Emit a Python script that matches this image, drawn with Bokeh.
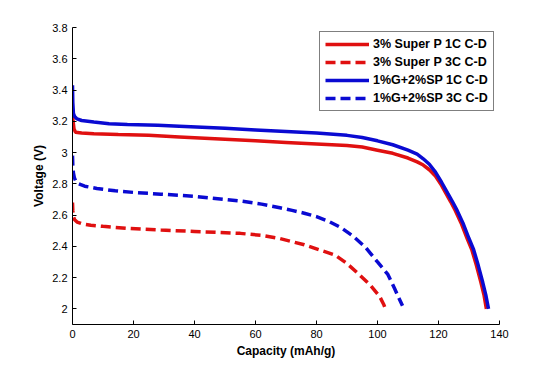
from bokeh.plotting import figure
from bokeh.models import Range1d, FixedTicker, Legend, LegendItem
from bokeh.embed import file_html
from bokeh.resources import INLINE

# ---- data ----
sp1c_cap = [0, 0.2, 0.5, 1, 3, 7, 15, 25, 35, 50, 60, 70, 80, 90, 95, 100, 105, 110,
            113, 115, 117, 119, 121, 122.4, 124, 125.5, 127.4, 129.4, 130.9, 132.4,
            133.9, 134.9, 135.7]
sp1c_v = [3.25, 3.2, 3.15, 3.13, 3.125, 3.12, 3.115, 3.11, 3.10, 3.085, 3.075, 3.065,
          3.055, 3.045, 3.035, 3.015, 2.995, 2.965, 2.94, 2.92, 2.89, 2.85, 2.79, 2.74,
          2.685, 2.63, 2.55, 2.45, 2.38, 2.28, 2.17, 2.09, 2.0]

sp3c_cap = [0, 0.1, 0.3, 0.7, 1.5, 3, 6, 10, 18, 29, 40, 55, 62, 68, 72, 76, 81, 86,
            90, 94, 97.7, 100.7, 102, 102.6]
sp3c_v = [2.68, 2.63, 2.59, 2.57, 2.555, 2.545, 2.535, 2.528, 2.515, 2.504, 2.495, 2.483,
          2.47, 2.45, 2.43, 2.41, 2.377, 2.345, 2.29, 2.22, 2.15, 2.08, 2.03, 2.0]

g1c_cap = [0, 0.1, 0.3, 0.7, 1.5, 3, 7, 12, 18, 28, 35, 50, 60, 70, 80, 90, 95, 100,
           105, 110, 113, 115, 117, 119, 121, 123, 124.6, 126.1, 128, 130, 131.5, 133,
           134.5, 135.5, 136.4]
g1c_v = [3.43, 3.32, 3.25, 3.23, 3.215, 3.205, 3.195, 3.185, 3.18, 3.174, 3.168, 3.155,
         3.145, 3.135, 3.125, 3.11, 3.096, 3.075, 3.05, 3.015, 2.99, 2.96, 2.925, 2.875,
         2.81, 2.74, 2.685, 2.63, 2.55, 2.45, 2.38, 2.28, 2.17, 2.09, 2.0]

g3c_cap = [0, 0.1, 0.3, 0.6, 1, 2, 4, 8, 14, 20, 29, 40, 55, 62, 68, 72, 76, 80, 84,
           88, 92, 96, 100, 103.4, 105.6, 107, 108.2]
g3c_v = [2.98, 2.92, 2.87, 2.84, 2.82, 2.80, 2.785, 2.77, 2.755, 2.745, 2.734, 2.72,
         2.69, 2.67, 2.647, 2.63, 2.612, 2.59, 2.56, 2.52, 2.465, 2.395, 2.30, 2.22,
         2.13, 2.07, 2.02]

series_names = ["3% Super P 1C C-D", "3% Super P 3C C-D",
                "1%G+2%SP 1C C-D", "1%G+2%SP 3C C-D"]

x_ticks = [0, 20, 40, 60, 80, 100, 120, 140]
y_ticks = [2.0, 2.2, 2.4, 2.6, 2.8, 3.0, 3.2, 3.4, 3.6, 3.8]
y_tick_labels = ["2", "2.2", "2.4", "2.6", "2.8", "3", "3.2", "3.4", "3.6", "3.8"]

RED = "#e01010"
BLUE = "#0a0ad2"

p = figure(width=546, height=364, x_range=Range1d(0, 140), y_range=Range1d(1.9, 3.8),
           output_backend="svg", toolbar_location=None,
           min_border_left=72, min_border_right=47, min_border_top=27, min_border_bottom=40)
p.outline_line_color = None
p.xgrid.visible = False
p.ygrid.visible = False
p.background_fill_color = "white"
p.border_fill_color = "white"

r1 = p.line(sp1c_cap, sp1c_v, line_color=RED, line_width=3.5)
r2 = p.line(sp3c_cap, sp3c_v, line_color=RED, line_width=3.5, line_dash="10 5")
r3 = p.line(g1c_cap, g1c_v, line_color=BLUE, line_width=3.5)
r4 = p.line(g3c_cap, g3c_v, line_color=BLUE, line_width=3.5, line_dash="10 5")

for ax in (p.xaxis[0], p.yaxis[0]):
    ax.axis_line_color = "black"
    ax.axis_line_width = 1
    ax.major_tick_in = 4
    ax.major_tick_out = 0
    ax.minor_tick_in = 0
    ax.minor_tick_out = 0
    ax.major_tick_line_color = "black"
    ax.major_label_text_font = "Liberation Sans"
    ax.major_label_text_font_size = "11px"
    ax.major_label_text_color = "black"
    ax.axis_label_text_font = "Liberation Sans"
    ax.axis_label_text_font_size = "12px"
    ax.axis_label_text_font_style = "bold"
    ax.axis_label_text_color = "black"
    ax.major_label_standoff = 5
    ax.axis_label_standoff = 3

p.xaxis.ticker = FixedTicker(ticks=x_ticks)
p.yaxis.ticker = FixedTicker(ticks=y_ticks)
p.yaxis.major_label_overrides = dict(zip(y_ticks, y_tick_labels))
p.xaxis.axis_label = "Capacity (mAh/g)"
p.yaxis.axis_label = "Voltage (V)"

legend = Legend(items=[LegendItem(label=series_names[0], renderers=[r1]),
                       LegendItem(label=series_names[1], renderers=[r2]),
                       LegendItem(label=series_names[2], renderers=[r3]),
                       LegendItem(label=series_names[3], renderers=[r4])],
                location=(247, 213))
legend.label_text_font = "Liberation Sans"
legend.label_text_font_size = "12.5px"
legend.label_text_font_style = "bold"
legend.label_text_color = "black"
legend.border_line_color = "black"
legend.border_line_width = 1
legend.background_fill_color = "white"
legend.background_fill_alpha = 1
legend.padding = 5
legend.spacing = 4
legend.margin = 0
legend.glyph_width = 44
legend.glyph_height = 14
legend.label_height = 14
legend.label_standoff = 4
p.add_layout(legend, "center")

open("out.html", "w").write(file_html(p, INLINE))
